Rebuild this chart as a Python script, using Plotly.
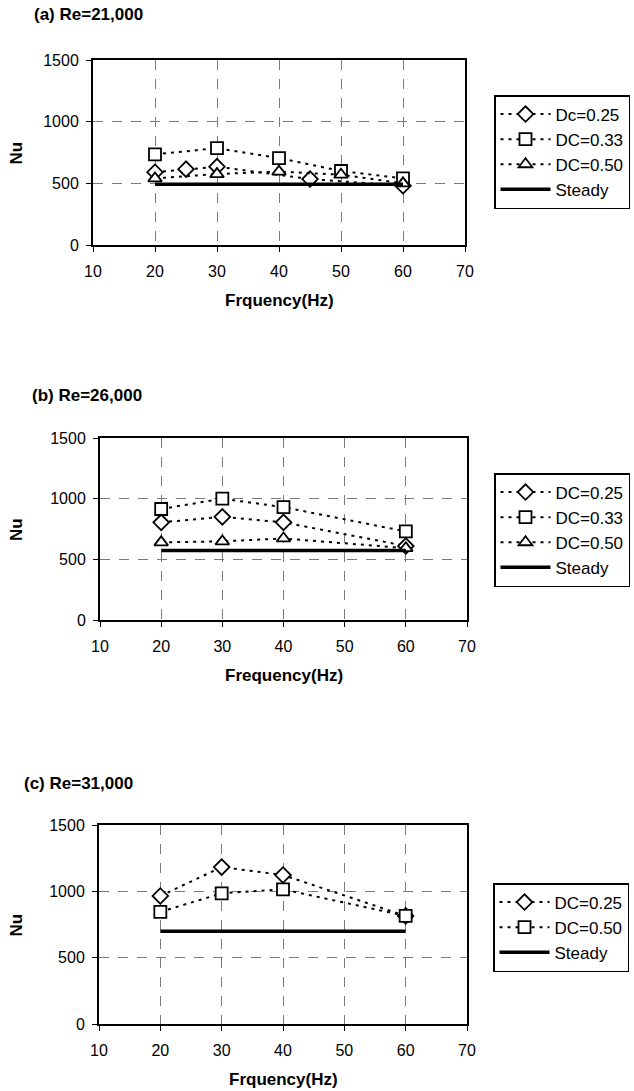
import plotly.graph_objects as go

W, H = 634, 1091

# ---------------- data ----------------
# (a) Re=21,000
freq_a_dc025 = [20, 25, 30, 45, 60]
nu_a_dc025 = [590, 615, 635, 535, 480]
freq_a = [20, 30, 40, 50, 60]
nu_a_dc033 = [735, 785, 705, 600, 540]
nu_a_dc050 = [540, 575, 595, 570, 500]
steady_a_freq = [20, 60]
steady_a = [492, 492]
labels_a = ["Dc=0.25", "DC=0.33", "DC=0.50", "Steady"]

# (b) Re=26,000
freq_b = [20, 30, 40, 60]
nu_b_dc025 = [805, 850, 805, 610]
nu_b_dc033 = [915, 1000, 930, 730]
nu_b_dc050 = [640, 648, 672, 592]
steady_b_freq = [20, 60]
steady_b = [572, 572]
labels_b = ["DC=0.25", "DC=0.33", "DC=0.50", "Steady"]

# (c) Re=31,000
freq_c = [20, 30, 40, 60]
nu_c_dc025 = [965, 1183, 1123, 815]
nu_c_dc050 = [845, 985, 1015, 815]
steady_c_freq = [20, 60]
steady_c = [700, 700]
labels_c = ["DC=0.25", "DC=0.50", "Steady"]

titles = ["(a) Re=21,000", "(b) Re=26,000", "(c) Re=31,000"]
xtitles = ["Frquency(Hz)", "Frequency(Hz)", "Frquency(Hz)"]
x_ticks = [10, 20, 30, 40, 50, 60, 70]
y_ticks = [0, 500, 1000, 1500]

# ---------------- layout helpers ----------------
def px_x(p):
    return p / W

def px_y(p):
    return 1 - p / H

FONT = "Liberation Sans, Arial, sans-serif"

# plot areas in pixel coords: (left, right, top, bottom)
areas = [(93, 465, 60, 245), (100, 467, 438, 620), (99, 467, 825, 1024)]
legend_pos = [(494, 95), (494, 473), (493, 883)]
title_pos = [(32, 15), (30, 396), (22, 783)]

fig = go.Figure()

def dotted(x, y, sym, name, xa, ya, leg):
    fig.add_trace(go.Scatter(
        x=x, y=y, name=name, mode="lines+markers",
        line=dict(color="black", width=2, dash="3px,5px"),
        marker=dict(symbol=sym, size=12, color="white",
                    line=dict(color="black", width=1.8)),
        xaxis=xa, yaxis=ya, legend=leg, showlegend=True))

def steady(x, y, name, xa, ya, leg):
    fig.add_trace(go.Scatter(
        x=x, y=y, name=name, mode="lines",
        line=dict(color="black", width=3.5),
        xaxis=xa, yaxis=ya, legend=leg, showlegend=True))

# panel a
dotted(freq_a_dc025, nu_a_dc025, "diamond", labels_a[0], "x", "y", "legend")
dotted(freq_a, nu_a_dc033, "square", labels_a[1], "x", "y", "legend")
dotted(freq_a, nu_a_dc050, "triangle-up", labels_a[2], "x", "y", "legend")
steady(steady_a_freq, steady_a, labels_a[3], "x", "y", "legend")
# panel b
dotted(freq_b, nu_b_dc025, "diamond", labels_b[0], "x2", "y2", "legend2")
dotted(freq_b, nu_b_dc033, "square", labels_b[1], "x2", "y2", "legend2")
dotted(freq_b, nu_b_dc050, "triangle-up", labels_b[2], "x2", "y2", "legend2")
steady(steady_b_freq, steady_b, labels_b[3], "x2", "y2", "legend2")
# panel c
dotted(freq_c, nu_c_dc025, "diamond", labels_c[0], "x3", "y3", "legend3")
dotted(freq_c, nu_c_dc050, "square", labels_c[1], "x3", "y3", "legend3")
steady(steady_c_freq, steady_c, labels_c[2], "x3", "y3", "legend3")

layout = dict(
    width=W, height=H,
    margin=dict(l=0, r=0, t=0, b=0, autoexpand=False),
    paper_bgcolor="white", plot_bgcolor="white",
    font=dict(family=FONT, size=15, color="black"),
    showlegend=True,
)

annotations = []
for i, (l, r, t, b) in enumerate(areas):
    sfx = "" if i == 0 else str(i + 1)
    common = dict(
        showline=True, linecolor="black", linewidth=2, mirror=True,
        ticks="outside", ticklen=5, tickcolor="black", tickwidth=1,
        showgrid=True, gridcolor="#7a7a7a", gridwidth=1,
        griddash="10px,9px", zeroline=False,
        tickfont=dict(family=FONT, size=16, color="black"),
        automargin=False,
    )
    layout["xaxis" + sfx] = dict(
        common, domain=[px_x(l), px_x(r)], range=[10, 70],
        tickvals=x_ticks, anchor="y" + sfx, ticklabelstandoff=6,
    )
    layout["yaxis" + sfx] = dict(
        common, domain=[px_y(b), px_y(t)], range=[0, 1500],
        tickvals=y_ticks, anchor="x" + sfx, ticklabelstandoff=4,
    )
    lx, ly = legend_pos[i]
    layout["legend" if i == 0 else "legend" + str(i + 1)] = dict(
        x=px_x(lx), y=px_y(ly), xanchor="left", yanchor="top",
        xref="container", yref="container",
        bordercolor="black", borderwidth=1.5, bgcolor="white",
        font=dict(family=FONT, size=17, color="black"),
        itemwidth=50, tracegroupgap=0,
    )
    tx, ty = title_pos[i]
    annotations.append(dict(
        text="<b>%s</b>" % titles[i], x=px_x(tx), y=px_y(ty),
        xref="paper", yref="paper",
        xanchor="left", yanchor="middle", showarrow=False,
        font=dict(family=FONT, size=17, color="black")))
    annotations.append(dict(
        text="<b>%s</b>" % xtitles[i], x=px_x((l + r) / 2), y=px_y(b + 55),
        xref="paper", yref="paper", xanchor="center", yanchor="middle",
        showarrow=False, font=dict(family=FONT, size=17, color="black")))
    annotations.append(dict(
        text="<b>Nu</b>", x=px_x(16), y=px_y((t + b) / 2 + 1),
        xref="paper", yref="paper", xanchor="center", yanchor="middle",
        textangle=-90, showarrow=False,
        font=dict(family=FONT, size=17, color="black")))

layout["annotations"] = annotations
fig.update_layout(**layout)
fig.write_html("out.html", config={"displayModeBar": False},
               post_script="document.body.style.margin='0px';")
